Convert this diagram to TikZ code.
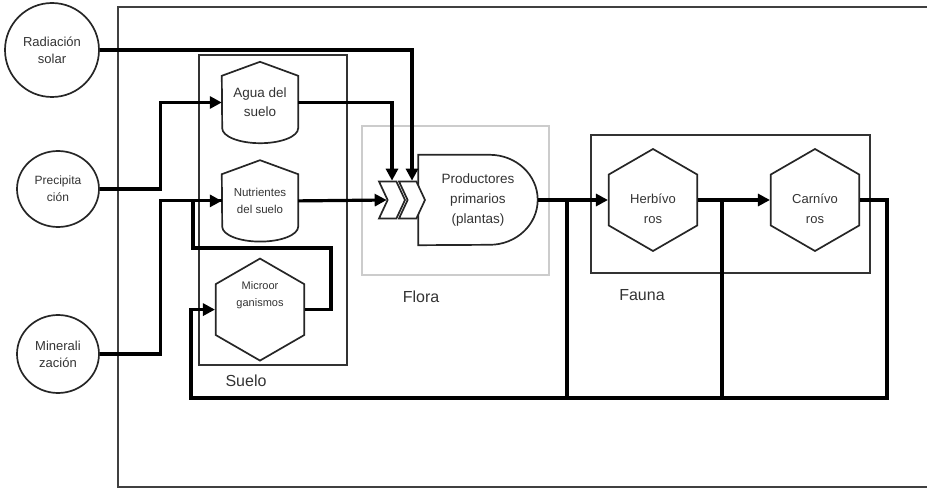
\documentclass[tikz,border=0pt]{standalone}
\usepackage{fontspec}
\setmainfont{Liberation Sans}
\usetikzlibrary{positioning,arrows.meta,shapes.geometric,shapes.symbols,calc}
\newcommand{\depotline}[1]{%
  \draw[outline] ([yshift=-14pt]#1.north west) -- (#1.north) -- ([yshift=-14pt]#1.north east)
    -- ([yshift=15pt]#1.south east) arc[start angle=0, end angle=-180, x radius=38pt, y radius=15pt] -- cycle;}
\tikzset{
  outline/.style={draw=black!85, line width=1.7pt},
  src/.style={ellipse, outline, align=center, text=black!80, inner sep=0pt, font=\fontsize{13}{17}\selectfont},
  depot/.style={minimum width=76pt, minimum height=81pt, align=center, text=black!80, inner sep=0pt},
  hexa/.style={regular polygon, regular polygon sides=6, shape border rotate=30, minimum size=102pt, outline, fill=white, inner sep=0pt},
  hextxt/.style={align=center, text=black!80, font=\fontsize{13}{20}\selectfont},
  gate/.style={signal, signal from=west, signal to=east, signal pointer angle=130, outline, fill=white, minimum width=26pt, minimum height=37pt, inner sep=0pt},
  grp/.style={draw=black!80, line width=2.4pt, inner sep=0pt},
  lbl/.style={font=\fontsize{16}{18}\selectfont, text=black!80},
  flow/.style={-{Triangle[length=12pt, width=12pt]}, line width=3.2pt},
  wire/.style={line width=3.2pt},
}
\begin{document}
\begin{tikzpicture}[x=1pt, y=-1pt]
  \useasboundingbox (0,0) rectangle (927,489);
  % system frame
  \draw[draw=black!75, line width=1.8pt] (118,7) rectangle (945,487);
  % groups
  \node[grp, minimum width=148pt, minimum height=310pt] (suelo) at (273,210) {};
  \node[grp, draw=black!20, line width=1.2pt, minimum width=187pt, minimum height=149pt] (flora) at (455.5,200.5) {};
  \node[grp, minimum width=279pt, minimum height=138pt] (fauna) at (730.5,204) {};
  \node[lbl] (suelolbl) at (246,381) {Suelo};
  \node[lbl] (floralbl) at (421,297) {Flora};
  \node[lbl] (faunalbl) at (642,295) {Fauna};
  % external sources
  \node[src, minimum width=94pt, minimum height=94pt] (rad) at (52,50) {Radiación\\solar};
  \node[src, minimum width=82pt, minimum height=76pt, font=\fontsize{12}{17}\selectfont] (prec) at (58,189) {Precipita\\ción};
  \node[src, minimum width=82pt, minimum height=78pt] (mine) at (58,354) {Minerali\\zación};
  % soil
  \node[depot, font=\fontsize{13.5}{19}\selectfont] (agua) at (260,102.5) {Agua del\\suelo};
  \node[depot, below=17pt of agua, font=\fontsize{11.5}{17}\selectfont] (nutr) {Nutrientes\\del suelo};
  \depotline{agua}
  \depotline{nutr}
  \node[hexa, below=16pt of nutr, label={[align=center, text=black!80, font=\fontsize{11}{17}\selectfont, yshift=14pt]center:Microor\\ganismos}] (micro) {};
  % flora
  \node[minimum width=119pt, minimum height=90pt, align=center, text=black!80, font=\fontsize{13.5}{20}\selectfont] (prod) at (478,200) {Productores\\primarios\\(plantas)};
  \draw[outline] (prod.south west) -- (prod.north west) -- ([xshift=-48pt]prod.north east)
    arc[start angle=90, end angle=-90, x radius=48pt, y radius=45pt] -- cycle;
  \node[gate] (sig1) at (392,200) {};
  \node[gate] (sig2) at (412,200) {};
  % fauna
  \node[hexa, label={[hextxt, yshift=-9pt]center:Herbívo\\ros}] (herb) at (653,200) {};
  \node[hexa, label={[hextxt, yshift=-9pt]center:Carnívo\\ros}] (carn) at (815,200) {};
  % bus points
  \coordinate (loopT) at (193,248);
  \coordinate (bus) at (191,398);
  \coordinate (dropP) at (567,398);
  \coordinate (dropH) at (722,398);
  % arrows
  \draw[flow] (rad.east) -| (sig2.north);
  \draw[flow] (agua.east) -| (sig1.north);
  \draw[flow] (prec.east) -- ++(61,0) |- (agua.west);
  \draw[flow] (mine.east) -- ++(61,0) |- (nutr.west);
  \draw[wire] (micro.east) -- ++(26,0) |- (loopT) |- (nutr.west);
  \draw[flow] (nutr.east) -- (sig1.west);
  \draw[flow] (prod.east) -- (herb.west);
  \draw[flow] (herb.east) -- (carn.west);
  \draw[flow] (carn.east) -- ++(27,0) |- (bus) |- (micro.west);
  \draw[wire] (dropP |- prod.east) -- (dropP);
  \draw[wire] (dropH |- herb.east) -- (dropH);
\end{tikzpicture}
\end{document}
